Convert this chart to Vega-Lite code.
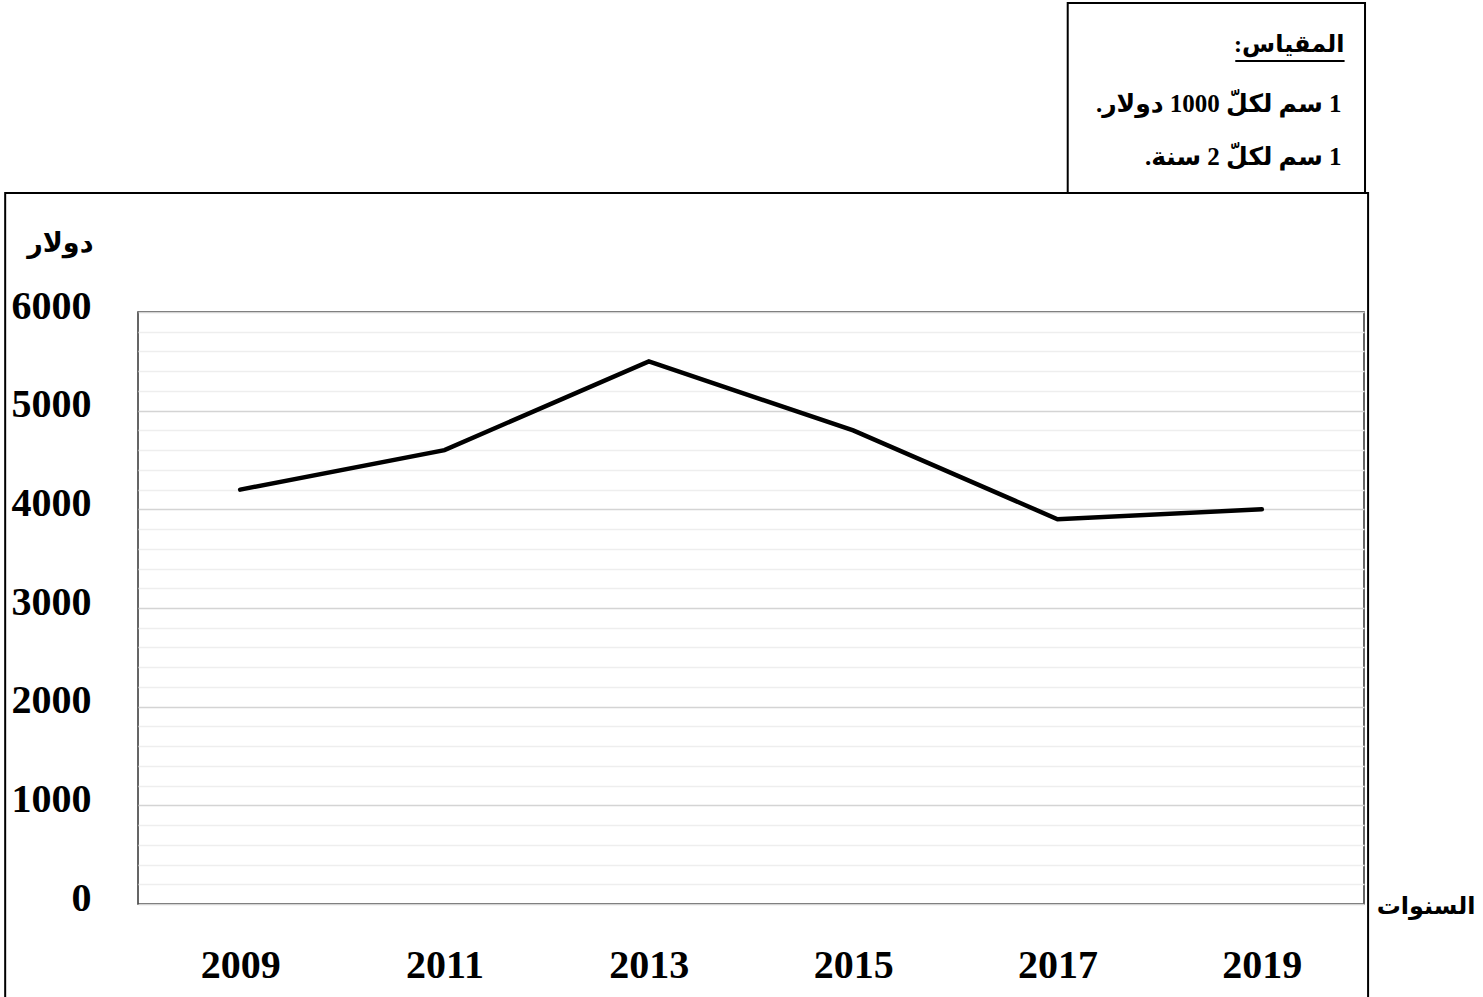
{
  "$schema": "https://vega.github.io/schema/vega-lite/v6.json",
  "width": 1226,
  "height": 592,
  "autosize": {"type": "none"},
  "padding": {"left": 138, "top": 312, "right": 119, "bottom": 93},
  "background": "white",
  "config": {
    "view": {"stroke": "#333333", "strokeWidth": 1.5},
    "font": "Liberation Serif, DejaVu Sans"
  },
  "layer": [
    {
      "data": {"values": [{}]},
      "mark": {"type": "rect", "fill": null, "stroke": "black", "strokeWidth": 2, "clip": false},
      "encoding": {
        "x": {"datum": 2006.7, "type": "quantitative"},
        "x2": {"datum": 2020.04},
        "y": {"datum": 7206, "type": "quantitative"},
        "y2": {"datum": -1300}
      }
    },
    {
      "data": {"values": [
        {"year": 2009, "value": 4200},
        {"year": 2011, "value": 4600},
        {"year": 2013, "value": 5500},
        {"year": 2015, "value": 4800},
        {"year": 2017, "value": 3900},
        {"year": 2019, "value": 4000}
      ]},
      "mark": {"type": "line", "color": "black", "strokeWidth": 4.5, "strokeCap": "round", "strokeJoin": "miter"},
      "encoding": {
        "x": {
          "field": "year", "type": "quantitative",
          "scale": {"domain": [2008, 2020], "nice": false, "zero": false},
          "axis": {
            "values": [2009, 2011, 2013, 2015, 2017, 2019],
            "tickCount": 20,
            "format": "d",
            "grid": false, "ticks": false, "tickSize": 0, "domain": false,
            "labelFont": "Liberation Serif", "labelFontWeight": "bold", "labelFontSize": 40, "labelColor": "black",
            "labelBaseline": "middle", "labelPadding": 61,
            "title": "\u202Bالسنوات\u202C",
            "titleFont": "Liberation Serif, DejaVu Sans", "titleFontSize": 24, "titleFontWeight": "bold", "titleColor": "black",
            "titleAlign": "right", "titleBaseline": "middle", "titleX": 1337, "titleY": 2, "titleAngle": 0
          }
        },
        "y": {
          "field": "value", "type": "quantitative",
          "scale": {"domain": [0, 6000], "nice": false},
          "axis": {
            "values": [0,200,400,600,800,1000,1200,1400,1600,1800,2000,2200,2400,2600,2800,3000,3200,3400,3600,3800,4000,4200,4400,4600,4800,5000,5200,5400,5600,5800,6000],
            "tickCount": 100,
            "labelExpr": "datum.value % 1000 === 0 ? datum.label : ''",
            "format": "d",
            "labelOverlap": false,
            "grid": true,
            "gridColor": {"condition": {"test": "datum.value % 1000 === 0", "value": "#d4d4d4"}, "value": "#eeeeee"},
            "gridWidth": 1.5,
            "ticks": false, "tickSize": 0, "domain": false,
            "labelFont": "Liberation Serif", "labelFontWeight": "bold", "labelFontSize": 40, "labelColor": "black",
            "labelPadding": 47, "labelOffset": -6,
            "title": "\u202Bدولار\u202C",
            "titleFont": "Liberation Serif, DejaVu Sans", "titleFontSize": 27, "titleFontWeight": "bold", "titleColor": "black",
            "titleAlign": "right", "titleBaseline": "middle", "titleX": -45, "titleY": -69, "titleAngle": 0
          }
        }
      }
    },
    {
      "data": {"values": [{}]},
      "mark": {"type": "rect", "fill": "white", "stroke": "black", "strokeWidth": 2, "clip": false},
      "encoding": {
        "x": {"datum": 2017.1, "type": "quantitative"},
        "x2": {"datum": 2020.01},
        "y": {"datum": 9132, "type": "quantitative"},
        "y2": {"datum": 7206}
      }
    },
    {
      "data": {"values": [{}]},
      "mark": {"type": "text", "align": "right", "baseline": "middle", "font": "Liberation Serif, DejaVu Sans", "fontSize": 24, "fontWeight": "bold", "color": "black", "clip": false},
      "encoding": {
        "x": {"datum": 2019.81, "type": "quantitative"},
        "y": {"datum": 8706, "type": "quantitative"},
        "text": {"value": "\u202Bالمقياس:\u202C"}
      }
    },
    {
      "data": {"values": [{}]},
      "mark": {"type": "rule", "color": "black", "strokeWidth": 2, "clip": false},
      "encoding": {
        "x": {"datum": 2018.74, "type": "quantitative"},
        "x2": {"datum": 2019.81},
        "y": {"datum": 8544, "type": "quantitative"}
      }
    },
    {
      "data": {"values": [{}]},
      "mark": {"type": "text", "align": "right", "baseline": "middle", "font": "Liberation Serif, DejaVu Sans", "fontSize": 25, "fontWeight": "bold", "color": "black", "clip": false},
      "encoding": {
        "x": {"datum": 2019.78, "type": "quantitative"},
        "y": {"datum": 8108, "type": "quantitative"},
        "text": {"value": "\u202B1 سم لكلّ 1000 دولار.\u202C"}
      }
    },
    {
      "data": {"values": [{}]},
      "mark": {"type": "text", "align": "right", "baseline": "middle", "font": "Liberation Serif, DejaVu Sans", "fontSize": 25, "fontWeight": "bold", "color": "black", "clip": false},
      "encoding": {
        "x": {"datum": 2019.78, "type": "quantitative"},
        "y": {"datum": 7571, "type": "quantitative"},
        "text": {"value": "\u202B1 سم لكلّ 2 سنة.\u202C"}
      }
    }
  ]
}
